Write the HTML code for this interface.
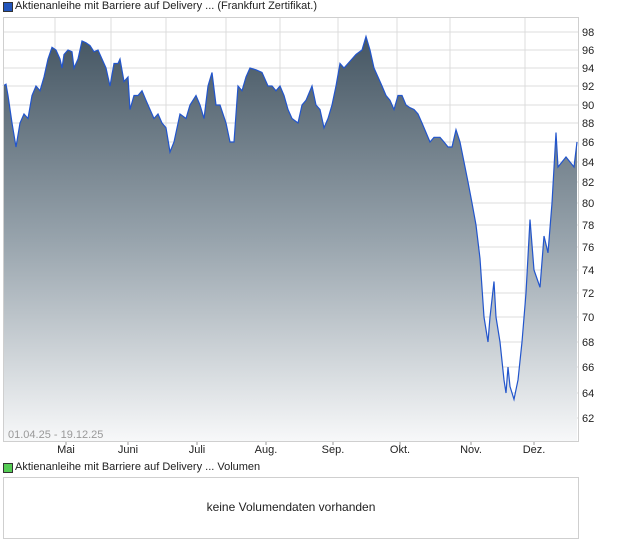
<!DOCTYPE html><html><head><style>
body{margin:0;width:620px;height:546px;background:#fff;font-family:"Liberation Sans",sans-serif;position:relative;overflow:hidden}
.t{position:absolute;font-size:11px;color:#222;white-space:nowrap}
</style></head><body>
<div style="position:absolute;left:3px;top:2px;width:8px;height:8px;background:#2255bb;border:1px solid #333"></div>
<div class="t" style="left:15px;top:0px">Aktienanleihe mit Barriere auf Delivery ... (Frankfurt Zertifikat.)</div>
<svg id="s" width="620" height="546" style="position:absolute;left:0;top:0">
<defs><linearGradient id="g" x1="0" y1="0" x2="0" y2="1"><stop offset="0" stop-color="#455663"/><stop offset="0.5" stop-color="#97a3ac"/><stop offset="1" stop-color="#f7f8f9"/></linearGradient></defs>
<g id="grid" stroke="#dcdcdc" stroke-width="1"></g>
<path id="area" fill="url(#g)"/>
<path id="line" fill="none" stroke="#2255cc" stroke-width="1.2"/>
<rect x="3.5" y="17.5" width="575" height="424" fill="none" stroke="#cfcfcf"/>
<g id="lab" font-family="Liberation Sans" font-size="11" fill="#222"></g>
<text x="8" y="438" font-size="11" fill="#999" font-family="Liberation Sans">01.04.25 - 19.12.25</text>
</svg>
<div style="position:absolute;left:3px;top:463px;width:8px;height:8px;background:#5c5;border:1px solid #333"></div>
<div class="t" style="left:15px;top:461px">Aktienanleihe mit Barriere auf Delivery ... Volumen</div>
<div style="position:absolute;left:3px;top:477px;width:574px;height:60px;border:1px solid #cfcfcf"></div>
<div class="t" style="left:3px;width:576px;text-align:center;top:500px;font-size:12px">keine Volumendaten vorhanden</div>
<script>
const G={98:32,96:50,94:68,92:86,90:105,88:123,86:142,84:162,82:182,80:203,78:225,76:247,74:270,72:293,70:317,68:342,66:367,64:393,62:418};
const Y=v=>{let lo=Math.floor(v/2)*2;if(lo<62)lo=62;if(lo>96)lo=96;let t=(v-lo)/2;return G[lo]+(G[lo+2]-G[lo])*t;};
const d=[[3,92],[6,92.2],[8,91],[12,88],[16,85.5],[20,88],[24,89],[28,88.5],[32,91],[36,92],[40,91.5],[44,93],[48,95],[52,96.3],[56,96],[60,95],[62,94],[64,95.5],[68,96],[72,95.8],[74,94],[78,95],[82,97],[86,96.8],[90,96.5],[94,95.8],[98,96],[102,95],[106,94],[108,93],[110,92],[114,94.5],[118,94.5],[120,95],[124,92.5],[128,93],[130,89.5],[134,91],[138,91],[142,91.5],[146,90.5],[150,89.5],[154,88.5],[158,89],[162,88],[166,87.5],[170,85],[174,86],[180,89],[186,88.5],[190,90],[196,91],[200,90],[204,88.5],[208,92],[212,93.5],[216,90],[220,90],[226,88],[230,86],[234,86],[238,92],[242,91.5],[246,93],[250,94],[256,93.8],[262,93.5],[268,92],[272,92],[276,91.5],[280,92],[284,91],[288,89.5],[292,88.5],[298,88],[302,90],[306,90.5],[312,92],[316,90],[320,89.5],[324,87.5],[328,88.5],[332,90],[336,92],[340,94.5],[344,94],[348,94.5],[352,95],[356,95.5],[362,96],[366,97.5],[370,96],[374,94],[378,93],[382,92],[386,91],[390,90.5],[394,89.5],[398,91],[402,91],[406,90],[410,89.7],[414,89.5],[418,89],[422,88],[426,87],[430,86],[434,86.5],[440,86.5],[444,86],[448,85.5],[452,85.5],[456,87.3],[460,86],[464,84],[468,82],[472,80],[476,78],[480,75],[484,70],[488,68],[490,70],[494,73],[496,70],[500,68],[504,65],[506,64],[508,66],[510,64.5],[514,63.5],[518,65],[522,68],[526,72],[530,78.5],[534,74],[538,73],[540,72.5],[544,77],[548,75.5],[552,80],[556,87],[558,83.5],[562,84],[566,84.5],[570,84],[574,83.5],[577,86]];
let p=d.map((q,i)=>(i?'L':'M')+q[0]+','+Y(q[1]).toFixed(1)).join('');
document.getElementById('line').setAttribute('d',p);
document.getElementById('area').setAttribute('d',p+'L577,441L3,441Z');
let g='',l='';
for(let v=62;v<=98;v+=2){let y=G[v];g+=`<line x1="3" x2="578" y1="${y}" y2="${y}"/>`;l+=`<text x="582" y="${y+4}">${v}</text>`;}
[55,111,166,226,280,338,397,450,525].forEach(x=>g+=`<line x1="${x}" x2="${x}" y1="17" y2="441"/>`);
[['Mai',66],['Juni',128],['Juli',197],['Aug.',266],['Sep.',333],['Okt.',400],['Nov.',471],['Dez.',534]].forEach(m=>{l+=`<text x="${m[1]}" y="453" text-anchor="middle">${m[0]}</text>`;g+=`<line x1="${m[1]}" x2="${m[1]}" y1="441" y2="445" stroke="#999"/>`;});
document.getElementById('grid').innerHTML=g;document.getElementById('lab').innerHTML=l;
</script>
</body></html>
